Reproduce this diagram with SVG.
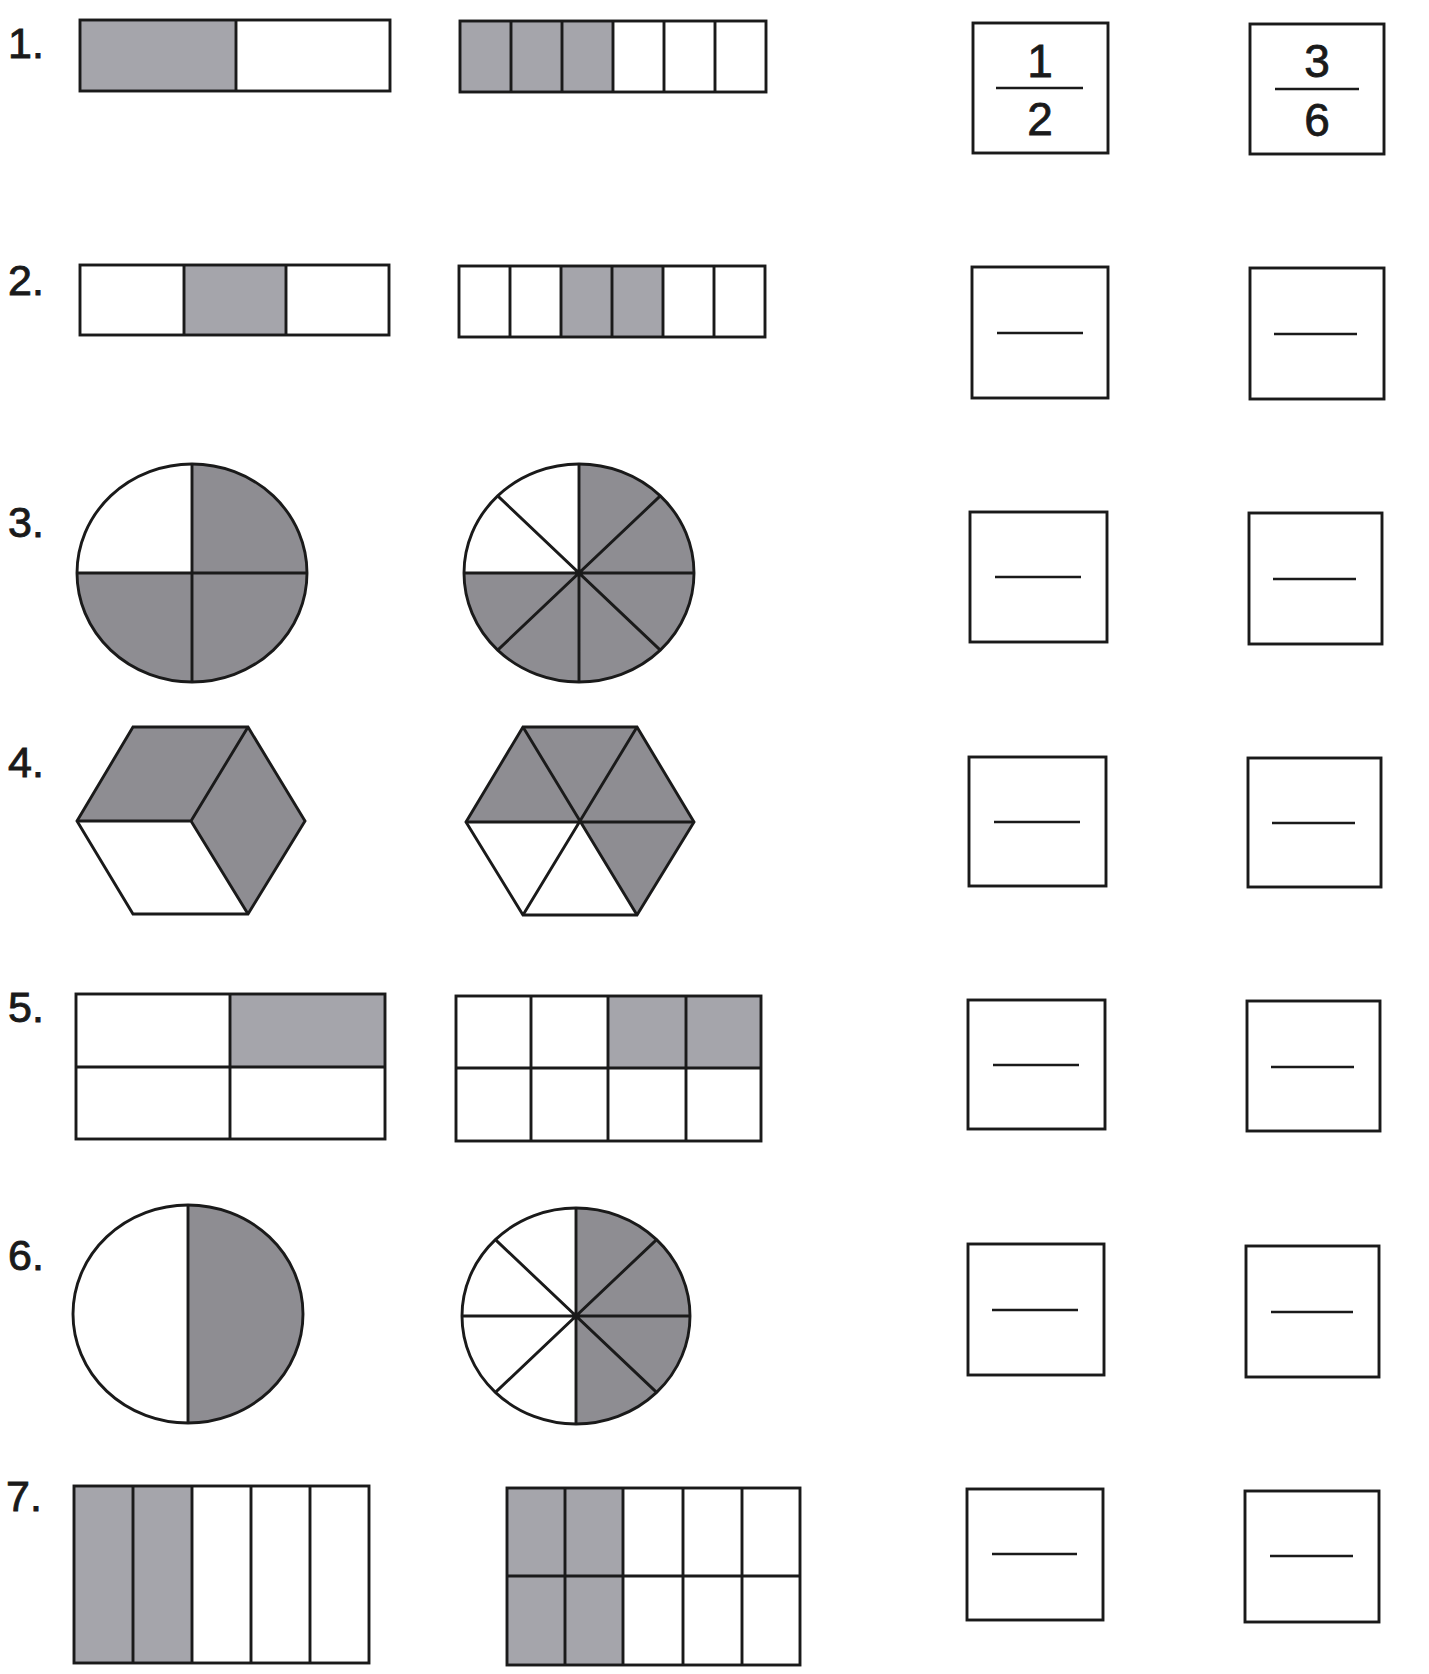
<svg xmlns="http://www.w3.org/2000/svg" width="1429" height="1674" viewBox="0 0 1429 1674">
<style>
.ln{stroke:#1a1a1a;stroke-width:2.9;fill:none;stroke-linejoin:miter}
.box{stroke:#1a1a1a;stroke-width:2.9;fill:#fff}
.g1{fill:#a5a5ab}
.g2{fill:#8e8d92}
.w{fill:#fff}
.lbl{font-family:"Liberation Sans",Arial,sans-serif;font-size:43px;fill:#1a1a1a;stroke:#1a1a1a;stroke-width:0.9}
.num{font-family:"Liberation Sans",Arial,sans-serif;font-size:46px;fill:#1a1a1a;stroke:#1a1a1a;stroke-width:0.8;text-anchor:middle}
.fl{stroke:#1a1a1a;stroke-width:2.6}
</style>
<rect width="1429" height="1674" fill="#fff"/>

<g id="labels">
<text class="lbl" x="8" y="58">1.</text>
<text class="lbl" x="8" y="295">2.</text>
<text class="lbl" x="8" y="537">3.</text>
<text class="lbl" x="8" y="777">4.</text>
<text class="lbl" x="8" y="1022">5.</text>
<text class="lbl" x="8" y="1270">6.</text>
<text class="lbl" x="6" y="1511">7.</text>
</g>

<!-- Row 1 -->
<g id="r1-left">
<rect class="g1" x="80" y="20" width="156" height="71"/>
<rect class="ln" x="80" y="20" width="310" height="71"/>
<line class="ln" x1="236" y1="20" x2="236" y2="91"/>
</g>
<g id="r1-right">
<rect class="g1" x="460" y="21" width="153" height="71"/>
<rect class="ln" x="460" y="21" width="306" height="71"/>
<path class="ln" d="M511,21V92M562,21V92M613,21V92M664,21V92M715,21V92"/>
</g>
<g id="r1-box1">
<rect class="box" x="973" y="23" width="135" height="130"/>
<line class="fl" x1="996" y1="88" x2="1083" y2="88"/>
<text class="num" x="1040" y="77">1</text>
<text class="num" x="1040" y="135">2</text>
</g>
<g id="r1-box2">
<rect class="box" x="1250" y="24" width="134" height="130"/>
<line class="fl" x1="1275" y1="89" x2="1359" y2="89"/>
<text class="num" x="1317" y="77">3</text>
<text class="num" x="1317" y="136">6</text>
</g>

<!-- Row 2 -->
<g id="r2-left">
<rect class="g1" x="184" y="265" width="102" height="70"/>
<rect class="ln" x="80" y="265" width="309" height="70"/>
<path class="ln" d="M184,265V335M286,265V335"/>
</g>
<g id="r2-right">
<rect class="g1" x="561" y="266" width="102" height="71"/>
<rect class="ln" x="459" y="266" width="306" height="71"/>
<path class="ln" d="M510,266V337M561,266V337M612,266V337M663,266V337M714,266V337"/>
</g>
<g id="r2-box1">
<rect class="box" x="972" y="267" width="136" height="131"/>
<line class="fl" x1="997" y1="333" x2="1083" y2="333"/>
</g>
<g id="r2-box2">
<rect class="box" x="1250" y="268" width="134" height="131"/>
<line class="fl" x1="1274" y1="334" x2="1357" y2="334"/>
</g>

<!-- Row 3 -->
<g id="r3-left">
<ellipse class="g2" cx="192" cy="573" rx="115" ry="109"/>
<path class="w" d="M192,573H77A115,109 0 0 1 192,464Z"/>
<ellipse class="ln" cx="192" cy="573" rx="115" ry="109"/>
<path class="ln" d="M192,464V682M77,573H307"/>
</g>
<g id="r3-right">
<ellipse class="g2" cx="579" cy="573" rx="115" ry="109"/>
<path class="w" d="M579,573H464A115,109 0 0 1 579,464Z"/>
<ellipse class="ln" cx="579" cy="573" rx="115" ry="109"/>
<path class="ln" d="M579,464V682M464,573H694M497.7,495.9L660.3,650.1M660.3,495.9L497.7,650.1"/>
</g>
<g id="r3-box1">
<rect class="box" x="970" y="512" width="137" height="130"/>
<line class="fl" x1="995" y1="577" x2="1081" y2="577"/>
</g>
<g id="r3-box2">
<rect class="box" x="1249" y="513" width="133" height="131"/>
<line class="fl" x1="1273" y1="579" x2="1356" y2="579"/>
</g>

<!-- Row 4 -->
<g id="r4-left">
<polygon class="g2" points="77,821 133,727 248,727 305,821 248,914 191,821"/>
<polygon class="w" points="77,821 191,821 248,914 133,914"/>
<polygon class="ln" points="77,821 133,727 248,727 305,821 248,914 133,914"/>
<path class="ln" d="M191,821L248,727M191,821H77M191,821L248,914"/>
</g>
<g id="r4-right">
<polygon class="g2" points="466,822 523,727 637,727 694,822 637,915 580,822"/>
<polygon class="w" points="466,822 580,822 637,915 523,915"/>
<polygon class="ln" points="466,822 523,727 637,727 694,822 637,915 523,915"/>
<path class="ln" d="M466,822H694M523,727L637,915M637,727L523,915"/>
</g>
<g id="r4-box1">
<rect class="box" x="969" y="757" width="137" height="129"/>
<line class="fl" x1="994" y1="822" x2="1080" y2="822"/>
</g>
<g id="r4-box2">
<rect class="box" x="1248" y="758" width="133" height="129"/>
<line class="fl" x1="1272" y1="823" x2="1355" y2="823"/>
</g>

<!-- Row 5 -->
<g id="r5-left">
<rect class="g1" x="230" y="994" width="155" height="73"/>
<rect class="ln" x="76" y="994" width="309" height="145"/>
<path class="ln" d="M230,994V1139M76,1067H385"/>
</g>
<g id="r5-right">
<rect class="g1" x="608" y="996" width="153" height="72"/>
<rect class="ln" x="456" y="996" width="305" height="145"/>
<path class="ln" d="M531,996V1141M608,996V1141M686,996V1141M456,1068H761"/>
</g>
<g id="r5-box1">
<rect class="box" x="968" y="1000" width="137" height="129"/>
<line class="fl" x1="993" y1="1065" x2="1079" y2="1065"/>
</g>
<g id="r5-box2">
<rect class="box" x="1247" y="1001" width="133" height="130"/>
<line class="fl" x1="1271" y1="1067" x2="1354" y2="1067"/>
</g>

<!-- Row 6 -->
<g id="r6-left">
<ellipse class="w" cx="188" cy="1314" rx="115" ry="109"/>
<path class="g2" d="M188,1205A115,109 0 0 1 188,1423Z"/>
<ellipse class="ln" cx="188" cy="1314" rx="115" ry="109"/>
<path class="ln" d="M188,1205V1423"/>
</g>
<g id="r6-right">
<ellipse class="w" cx="576" cy="1316" rx="114" ry="108"/>
<path class="g2" d="M576,1208A114,108 0 0 1 576,1424Z"/>
<ellipse class="ln" cx="576" cy="1316" rx="114" ry="108"/>
<path class="ln" d="M576,1208V1424M462,1316H690M495.4,1239.6L656.6,1392.4M656.6,1239.6L495.4,1392.4"/>
</g>
<g id="r6-box1">
<rect class="box" x="968" y="1244" width="136" height="131"/>
<line class="fl" x1="992" y1="1310" x2="1078" y2="1310"/>
</g>
<g id="r6-box2">
<rect class="box" x="1246" y="1246" width="133" height="131"/>
<line class="fl" x1="1271" y1="1312" x2="1353" y2="1312"/>
</g>

<!-- Row 7 -->
<g id="r7-left">
<rect class="g1" x="74" y="1486" width="118" height="177"/>
<rect class="ln" x="74" y="1486" width="295" height="177"/>
<path class="ln" d="M133,1486V1663M192,1486V1663M251,1486V1663M310,1486V1663"/>
</g>
<g id="r7-right">
<rect class="g1" x="507" y="1488" width="116" height="177"/>
<rect class="ln" x="507" y="1488" width="293" height="177"/>
<path class="ln" d="M565,1488V1665M623,1488V1665M683,1488V1665M742,1488V1665M507,1576H800"/>
</g>
<g id="r7-box1">
<rect class="box" x="967" y="1489" width="136" height="131"/>
<line class="fl" x1="992" y1="1554" x2="1077" y2="1554"/>
</g>
<g id="r7-box2">
<rect class="box" x="1245" y="1491" width="134" height="131"/>
<line class="fl" x1="1270" y1="1556" x2="1353" y2="1556"/>
</g>
</svg>
